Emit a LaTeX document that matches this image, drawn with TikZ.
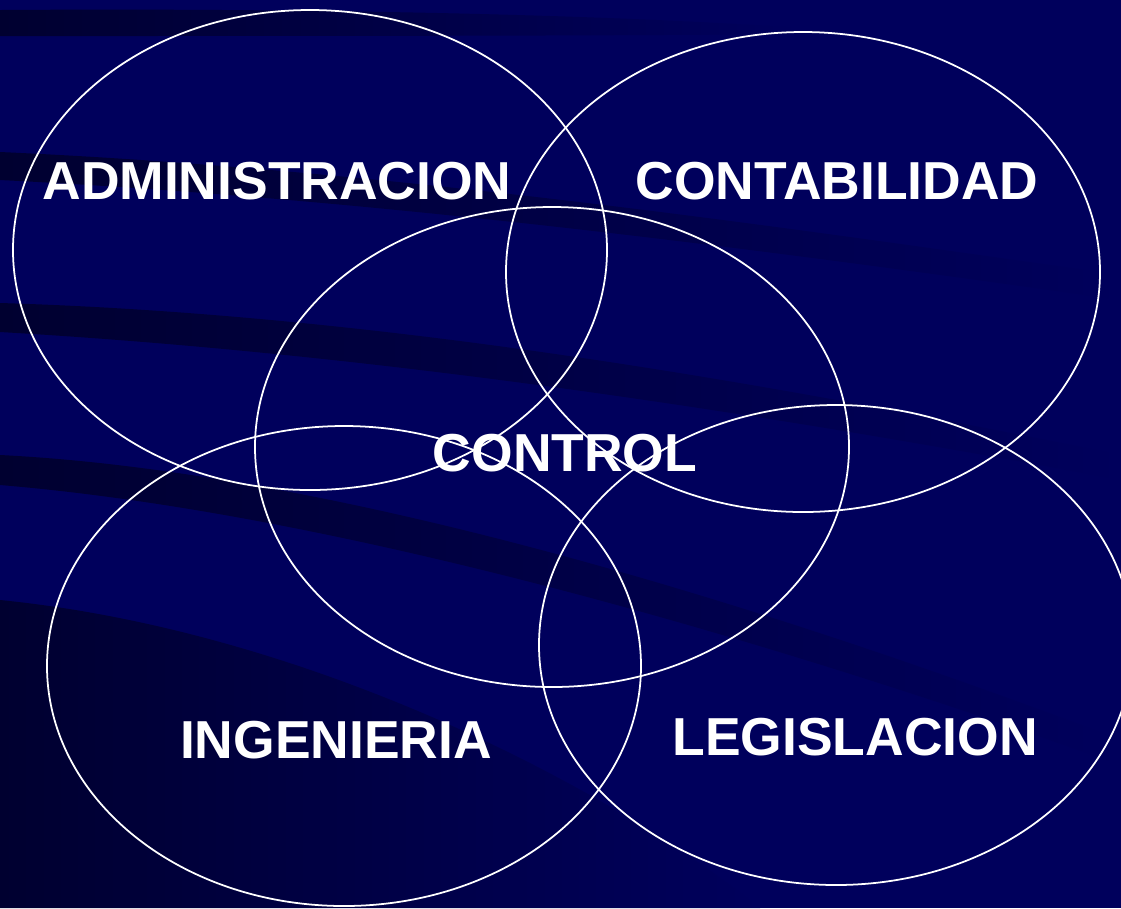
\documentclass[tikz,border=0pt]{standalone}
\usepackage{fontspec}
\setmainfont{Liberation Sans}
\usepackage{tikz}
\usepackage{xcolor}
\definecolor{fondo}{HTML}{00005C}
\definecolor{franja}{HTML}{000030}

\begin{document}
\begin{tikzpicture}[x=0.01cm,y=-0.01cm,
    area/.style={draw=white,line width=0.5pt},
    etiqueta/.style={text=white,font=\fontsize{15.2}{18}\selectfont\bfseries,inner sep=0pt}]
        % fondo
        \fill[fondo] (0,0) rectangle (1121,908);
        \useasboundingbox (0,0) rectangle (1121,908);
        \shade[left color=franja,right color=fondo] (0,10) .. controls (300,8) and (600,14) .. (800,28) -- (800,34) .. controls (600,36) and (300,36) .. (0,36) -- cycle;
        \shade[left color=franja,right color=fondo] (0,152) .. controls (400,170) and (800,230) .. (1121,275) -- (1121,300) .. controls (800,255) and (400,200) .. (0,180) -- cycle;
        \shade[left color=franja,right color=fondo] (0,303) .. controls (400,315) and (800,390) .. (1121,455) -- (1121,480) .. controls (800,420) and (400,355) .. (0,332) -- cycle;
        \shade[left color=franja,right color=fondo] (0,455) .. controls (300,470) and (700,580) .. (1121,740) -- (1121,765) .. controls (700,615) and (300,510) .. (0,485) -- cycle;
        \shade[left color=franja,right color=fondo] (0,600) .. controls (300,630) and (600,780) .. (760,908) -- (0,908) -- cycle;
        % circulos
        \draw[area] (310,250) ellipse (297 and 240);
        \draw[area] (803,272) ellipse (297 and 240);
        \draw[area] (552,447) ellipse (297 and 240);
        \draw[area] (344,666) ellipse (297 and 240);
        \draw[area] (836,645) ellipse (297 and 240);
        % textos
        \node[etiqueta] (adm) at (277,181) {ADMINISTRACION};
        \node[etiqueta] (cont) at (837,181) {CONTABILIDAD};
        \node[etiqueta] (ctrl) at (565,453) {CONTROL};
        \node[etiqueta] (ing) at (336,740) {INGENIERIA};
        \node[etiqueta] (leg) at (855,737) {LEGISLACION};
    \end{tikzpicture}
\end{document}
